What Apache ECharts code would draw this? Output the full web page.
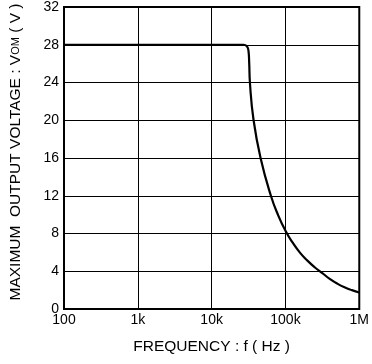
<!DOCTYPE html>
<html>
<head>
<meta charset="utf-8">
<script src="https://cdn.jsdelivr.net/npm/echarts@6/dist/echarts.min.js"></script>
<style>
  html, body { margin: 0; padding: 0; background: #fff; }
  #chart { width: 372px; height: 364px; }
</style>
</head>
<body>
<div id="chart"></div>
<script>
// frequency (Hz) vs max output voltage (V)
const freq = [100, 1000, 10000, 27000, 30000, 31500, 32300, 33000, 37000, 46000, 63500, 80000,
  100000, 126000, 158000, 200000, 251000, 316000, 398000, 501000, 631000, 794000, 1000000];
const volts = [28, 28, 28, 28, 27.85, 27.4, 26, 24, 20, 16, 12, 9.9,
  8.3, 7.0, 5.95, 5.1, 4.4, 3.8, 3.2, 2.7, 2.3, 2.0, 1.75];

const xTickValues = [100, 1000, 10000, 100000, 1000000];
const xTickLabels = ["100", "1k", "10k", "100k", "1M"];

const FONT = "'Liberation Sans', Arial, sans-serif";

const chart = echarts.init(document.getElementById("chart"));
chart.setOption({
  animation: false,
  grid: {
    left: 62,
    top: 7,
    right: 6,
    bottom: 55,
    show: true,
    borderColor: "#000",
    borderWidth: 2,
  },
  xAxis: {
    type: "log",
    logBase: 10,
    min: 100,
    max: 1000000,
    name: "FREQUENCY : f ( Hz )",
    nameLocation: "middle",
    nameGap: 30,
    nameTextStyle: { fontFamily: FONT, fontSize: 15.5, color: "#000" },
    axisLine: { show: false },
    axisTick: { show: false },
    minorTick: { show: false },
    axisLabel: {
      fontFamily: FONT,
      fontSize: 14,
      color: "#000",
      margin: 4,
      formatter: (v) => {
        const i = xTickValues.findIndex((t) => Math.abs(t - v) / t < 1e-6);
        return i >= 0 ? xTickLabels[i] : "";
      },
    },
    splitLine: { show: true, lineStyle: { color: "#000", width: 1 } },
  },
  yAxis: {
    type: "value",
    min: 0,
    max: 32,
    interval: 4,
    name: "{a|MAXIMUM  OUTPUT VOLTAGE : V}{s|OM}{a| ( V )}",
    nameLocation: "middle",
    nameGap: 40,
    nameRotate: 90,
    nameTextStyle: {
      fontFamily: FONT,
      color: "#000",
      padding: [0, 0, 0, 12],
      rich: {
        a: { fontFamily: FONT, fontSize: 15.5, color: "#000" },
        s: { fontFamily: FONT, fontSize: 11, color: "#000" },
      },
    },
    axisLine: { show: false },
    axisTick: { show: false },
    axisLabel: {
      fontFamily: FONT,
      fontSize: 14,
      color: "#000",
      margin: 5,
    },
    splitLine: { show: true, lineStyle: { color: "#000", width: 1 } },
  },
  series: [
    {
      type: "line",
      data: freq.map((f, i) => [f, volts[i]]),
      showSymbol: false,
      smooth: 0.5,
      lineStyle: { color: "#000", width: 2.2 },
      z: 5,
    },
  ],
});
</script>
</body>
</html>
